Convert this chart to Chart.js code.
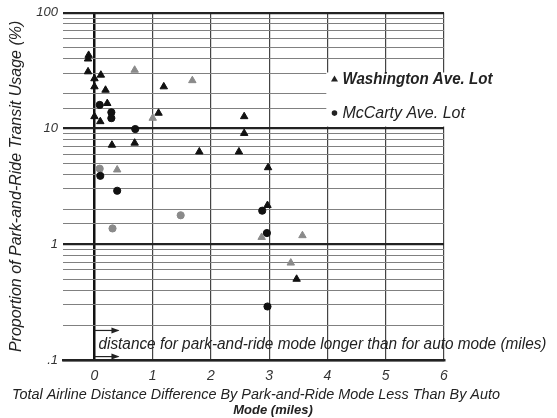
<!DOCTYPE html>
<html>
<head>
<meta charset="utf-8">
<script src="https://cdn.jsdelivr.net/npm/chart.js@4/dist/chart.umd.min.js"></script>
<style>
  html, body { margin: 0; padding: 0; background: #fff; }
  #wrap { width: 557px; height: 418px; }
</style>
</head>
<body>
<div id="wrap"><canvas id="transitChart" width="557" height="418"></canvas></div>
<script>
// values
const washingtonX = [-0.10, -0.11, -0.11, 0.00, 0.11, 0.00, 0.19, 0.22, 0.00, 0.10, 0.30, 0.69, 1.10, 1.19, 2.57, 2.57, 1.80, 2.48, 2.98, 2.97, 3.47];
const washingtonY = [43, 40, 31, 27, 29, 23, 21.5, 16.5, 12.7, 11.5, 7.2, 7.5, 13.6, 23, 12.7, 9.1, 6.3, 6.3, 4.6, 2.17, 0.50];
// lighter (faded) marks in the print
const washingtonFadedX = [0.69, 1.00, 1.68, 0.39, 2.87, 3.57, 3.37];
const washingtonFadedY = [32, 12.3, 26, 4.4, 1.15, 1.19, 0.69];

const mccartyX = [0.09, 0.29, 0.29, 0.70, 0.10, 0.39, 2.88, 2.96, 2.97];
const mccartyY = [16, 13.8, 12.3, 9.9, 3.9, 2.9, 1.95, 1.25, 0.29];
const mccartyFadedX = [0.09, 0.31, 1.48];
const mccartyFadedY = [4.5, 1.37, 1.78];

const xTicks = [0, 1, 2, 3, 4, 5, 6];
const yTickLabels = { 100: '100', 10: '10', 1: '1', 0.1: '.1' };
const xTitle = ['Total Airline Distance Difference By Park-and-Ride Mode Less Than By Auto', 'Mode (miles)'];
const note = 'distance for park-and-ride mode longer than for auto mode (miles)';

const FONT = "'Liberation Sans', Arial, sans-serif";

const toPoints = (xs, ys) => xs.map((x, i) => ({ x, y: ys[i] }));
const isDecade = (v) => Math.abs(Math.log10(v) - Math.round(Math.log10(v))) < 1e-6;

const overlayPlugin = {
  id: 'overlay',
  beforeDatasetsDraw(chart) {
    const { ctx, scales: { x, y } } = chart;
    // legend box blanks out the grid behind it
    const left = x.getPixelForValue(3.98);
    const top = y.getPixelForValue(30.5);
    const bottom = y.getPixelForValue(10.4);
    ctx.save();
    ctx.fillStyle = '#fff';
    ctx.fillRect(left, top, chart.width - left, bottom - top);
    ctx.restore();
  },
  afterDatasetsDraw(chart) {
    const { ctx, scales: { x, y } } = chart;
    ctx.save();
    // legend
    const lx = x.getPixelForValue(4.12);
    const ly1 = y.getPixelForValue(26.5);
    const ly2 = y.getPixelForValue(13.6);
    ctx.fillStyle = '#222';
    ctx.beginPath();
    ctx.moveTo(lx, ly1 - 4);
    ctx.lineTo(lx + 3.5, ly1 + 2);
    ctx.lineTo(lx - 3.5, ly1 + 2);
    ctx.closePath();
    ctx.fill();
    ctx.beginPath();
    ctx.arc(lx, ly2, 2.8, 0, Math.PI * 2);
    ctx.fill();
    ctx.textBaseline = 'middle';
    ctx.textAlign = 'left';
    ctx.font = "italic bold 16px " + FONT;
    ctx.fillText('Washington Ave. Lot', lx + 8, ly1, 150);
    ctx.font = "italic 16px " + FONT;
    ctx.fillText('McCarty Ave. Lot', lx + 8, ly2, 128);

    // arrows + note along the bottom
    const x0 = x.getPixelForValue(0);
    const ya = y.getPixelForValue(0.18);
    const yb = y.getPixelForValue(0.107);
    ctx.strokeStyle = '#222';
    ctx.lineWidth = 1.2;
    [ya, yb].forEach((yy) => {
      ctx.beginPath();
      ctx.moveTo(x0, yy);
      ctx.lineTo(x0 + 24, yy);
      ctx.stroke();
      ctx.beginPath();
      ctx.moveTo(x0 + 25, yy);
      ctx.lineTo(x0 + 17, yy - 3);
      ctx.lineTo(x0 + 17, yy + 3);
      ctx.closePath();
      ctx.fill();
    });
    const yt = y.getPixelForValue(0.135);
    ctx.fillStyle = '#222';
    ctx.font = "italic 16px " + FONT;
    ctx.fillText(note, x0 + 4, yt, 448);
    ctx.restore();
  },
  afterDraw(chart) {
    const { ctx, chartArea } = chart;
    ctx.save();
    ctx.fillStyle = '#222';
    ctx.textAlign = 'center';
    ctx.textBaseline = 'middle';
    ctx.font = "italic 15px " + FONT;
    ctx.fillText(xTitle[0], chartArea.left + 193, chartArea.bottom + 35, 488);
    ctx.font = "italic bold 13px " + FONT;
    ctx.fillText(xTitle[1], chartArea.left + 210, chartArea.bottom + 50, 84);
    ctx.restore();
  },
};

new Chart(document.getElementById('transitChart'), {
  type: 'scatter',
  data: {
    datasets: [
      {
        label: 'Washington Ave. Lot',
        data: toPoints(washingtonX, washingtonY),
        pointStyle: 'triangle',
        pointRadius: 4.3,
        backgroundColor: '#111',
        borderColor: '#111',
      },
      {
        label: 'Washington Ave. Lot (faded)',
        data: toPoints(washingtonFadedX, washingtonFadedY),
        pointStyle: 'triangle',
        pointRadius: 4.3,
        backgroundColor: '#8a8a8a',
        borderColor: '#8a8a8a',
      },
      {
        label: 'McCarty Ave. Lot',
        data: toPoints(mccartyX, mccartyY),
        pointStyle: 'circle',
        pointRadius: 3.6,
        backgroundColor: '#111',
        borderColor: '#111',
      },
      {
        label: 'McCarty Ave. Lot (faded)',
        data: toPoints(mccartyFadedX, mccartyFadedY),
        pointStyle: 'circle',
        pointRadius: 3.6,
        backgroundColor: '#8a8a8a',
        borderColor: '#8a8a8a',
      },
    ],
  },
  options: {
    responsive: false,
    animation: false,
    devicePixelRatio: 1,
    layout: { padding: { top: 8, right: 113, left: 0, bottom: 0 } },
    plugins: {
      legend: { display: false },
      tooltip: { enabled: false },
    },
    scales: {
      x: {
        type: 'linear',
        min: -0.54,
        max: 6,
        afterBuildTicks: (scale) => {
          scale.ticks = xTicks.map((v) => ({ value: v }));
        },
        afterFit: (scale) => { scale.height = 58; },
        ticks: {
          color: '#333',
          padding: 8,
          font: { family: FONT, size: 14, style: 'italic' },
        },
        grid: {
          drawTicks: false,
          color: (c) => (c.tick && c.tick.value === 0 ? '#111' : '#444'),
          lineWidth: (c) => (c.tick && c.tick.value === 0 ? 2.5 : 1.2),
        },
        border: { display: true, color: '#222', width: 2.5 },
        title: { display: false },
      },
      y: {
        type: 'logarithmic',
        min: 0.1,
        max: 100,
        afterFit: (scale) => { scale.width = 63; },
        ticks: {
          autoSkip: false,
          color: '#333',
          padding: 5,
          font: { family: FONT, size: 13, style: 'italic' },
          callback: (v) => yTickLabels[Number(v.toPrecision(3))] || '',
        },
        grid: {
          drawTicks: false,
          color: (c) => (c.tick && isDecade(c.tick.value) ? '#222' : '#808080'),
          lineWidth: (c) => (c.tick && isDecade(c.tick.value) ? 2.2 : 1.1),
        },
        border: { display: false },
        title: {
          display: true,
          text: 'Proportion of Park-and-Ride Transit Usage (%)',
          color: '#222',
          padding: { top: 7, bottom: 4 },
          font: { family: FONT, size: 16, style: 'italic' },
        },
      },
    },
  },
  plugins: [overlayPlugin],
});
</script>
</body>
</html>
